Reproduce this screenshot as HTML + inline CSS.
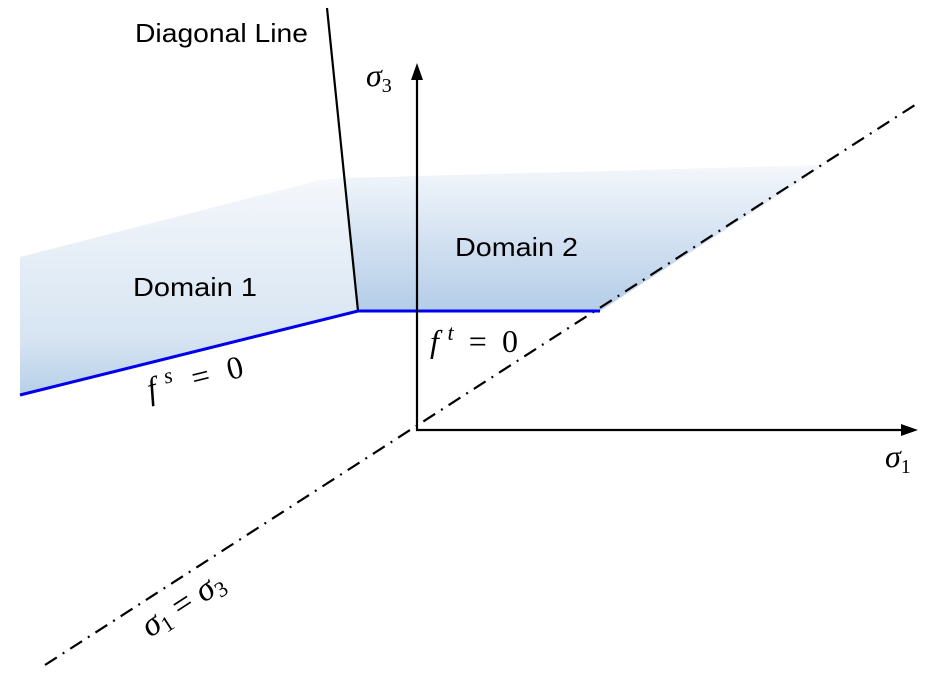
<!DOCTYPE html>
<html><head><style>body{margin:0;background:#fff}</style></head><body>
<svg width="938" height="681" xmlns="http://www.w3.org/2000/svg">
<defs>
<linearGradient id="g1" x1="0" y1="180" x2="0" y2="395" gradientUnits="userSpaceOnUse">
<stop offset="0" stop-color="#f4f7fb"/><stop offset="0.75" stop-color="#d6e4f2"/><stop offset="1" stop-color="#b6cfe8"/></linearGradient>
<linearGradient id="g2" x1="0" y1="165" x2="0" y2="311" gradientUnits="userSpaceOnUse">
<stop offset="0" stop-color="#f4f7fb"/><stop offset="1" stop-color="#b4cde8"/></linearGradient>
</defs>
<polygon points="20,257 320,180 344,178 358,311 20,395" fill="url(#g1)"/>
<polygon points="344,178 825,165 600,311 358,311" fill="url(#g2)"/>
<line x1="45" y1="665" x2="918" y2="103" stroke="#000" stroke-width="2.2" stroke-dasharray="14,7,2,7"/>
<line x1="327" y1="8" x2="358" y2="311" stroke="#000" stroke-width="2.2"/>
<polyline points="20,395 358,311 600,311" fill="none" stroke="#0000ee" stroke-width="3"/>
<line x1="417" y1="431" x2="417" y2="75" stroke="#000" stroke-width="2.2"/>
<polygon points="417,63 411,80 423,80" fill="#000"/>
<line x1="416" y1="430" x2="906" y2="430" stroke="#000" stroke-width="2.2"/>
<polygon points="918,430 901,424 901,436" fill="#000"/>
<g font-family="Liberation Sans, sans-serif" font-size="26" fill="#000">
<text x="135" y="42" textLength="173" lengthAdjust="spacingAndGlyphs">Diagonal Line</text>
<text x="133" y="296" textLength="124" lengthAdjust="spacingAndGlyphs">Domain 1</text>
<text x="455" y="256" textLength="123" lengthAdjust="spacingAndGlyphs">Domain 2</text>
</g>
<g font-family="Liberation Serif, serif" font-style="italic" font-size="32" fill="#000">
<text x="366" y="86">σ<tspan font-size="20" font-style="normal" dy="6">3</tspan></text>
<text x="885" y="467">σ<tspan font-size="20" font-style="normal" dy="6">1</tspan></text>
<text x="430" y="352" textLength="88">f<tspan font-size="22" dx="5" dy="-12">t</tspan><tspan font-style="normal" dy="12"> = 0</tspan></text>
<text x="150" y="400" transform="rotate(-14 150 400)" textLength="98">f<tspan font-size="22" dx="5" dy="-12">s</tspan><tspan font-style="normal" dy="12"> = 0</tspan></text>
<text x="150" y="638" transform="rotate(-33 150 638)" font-size="34">σ<tspan font-size="22" font-style="normal" dy="5">1</tspan><tspan font-style="normal" dy="-5"> = </tspan>σ<tspan font-size="22" font-style="normal" dy="5">3</tspan></text>
</g>
</svg>
</body></html>
